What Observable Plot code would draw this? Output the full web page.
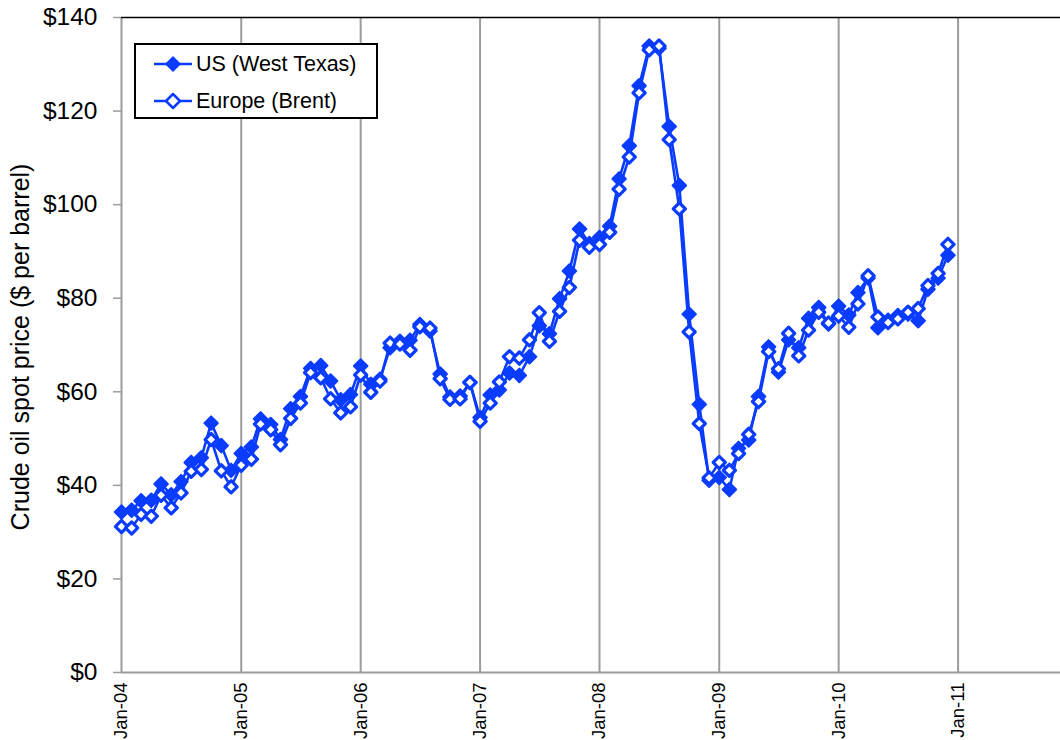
<!DOCTYPE html>
<html>
<head>
<meta charset="utf-8">
<script src="https://cdn.jsdelivr.net/npm/d3@7"></script>
<script src="https://cdn.jsdelivr.net/npm/@observablehq/plot@0.6"></script>
<style>
  html, body { margin: 0; padding: 0; background: #fff; }
  #wrap { position: relative; width: 1060px; height: 740px; font-family: "Liberation Sans", Arial, sans-serif; }
  #legend { position: absolute; left: 134px; top: 43px; width: 240px; height: 72px; border: 2px solid #000; background: #fff; box-sizing: content-box; }
  .row { position: absolute; left: 0; height: 30px; display: flex; align-items: center; font-size: 21.5px; color: #000; }
  .row svg { margin-left: 18px; margin-right: 4px; }
</style>
</head>
<body>
<div id="wrap"></div>
<script>
const startMonth = "2004-01-01";
const endMonth = "2010-12-01";
const yearTicks = ["2004-01-01","2005-01-01","2006-01-01","2007-01-01","2008-01-01","2009-01-01","2010-01-01","2011-01-01"];
const yTicks = [0, 20, 40, 60, 80, 100, 120, 140];
const seriesNames = ["US (West Texas)", "Europe (Brent)"];
const yTitle = "Crude oil spot price ($ per barrel)";

// Monthly average spot prices, Jan 2004 – Dec 2010
const wti = [
  34.3, 34.7, 36.7, 36.8, 40.3, 38.0, 40.8, 44.9, 45.9, 53.3, 48.5, 43.2,
  46.8, 48.2, 54.2, 53.0, 49.8, 56.4, 59.0, 65.0, 65.6, 62.3, 58.3, 59.4,
  65.5, 61.6, 62.7, 69.4, 70.8, 71.0, 74.4, 73.0, 63.8, 58.9, 59.1, 62.0,
  54.5, 59.3, 60.4, 64.0, 63.5, 67.5, 74.1, 72.4, 79.9, 85.8, 94.8, 91.7,
  93.0, 95.4, 105.5, 112.6, 125.4, 133.9, 133.4, 116.7, 104.1, 76.6, 57.3, 41.1,
  41.7, 39.1, 47.9, 49.7, 59.0, 69.6, 64.2, 71.1, 69.4, 75.7, 78.0, 74.5,
  78.3, 76.4, 81.2, 84.3, 73.7, 75.3, 76.3, 76.6, 75.2, 81.9, 84.3, 89.2
];
const brent = [
  31.2, 30.9, 33.8, 33.4, 37.9, 35.2, 38.4, 43.0, 43.4, 49.8, 43.1, 39.7,
  44.3, 45.6, 53.1, 51.9, 48.7, 54.3, 57.6, 64.1, 63.0, 58.5, 55.5, 56.8,
  63.6, 59.9, 62.3, 70.4, 70.2, 68.9, 73.9, 73.6, 62.8, 58.4, 58.5, 62.0,
  53.7, 57.6, 62.1, 67.5, 67.2, 71.1, 76.9, 70.8, 77.2, 82.3, 92.4, 90.9,
  91.5, 94.1, 103.3, 110.2, 123.9, 133.1, 133.9, 113.9, 99.1, 72.8, 53.2, 41.6,
  44.9, 43.2, 46.8, 50.9, 57.9, 68.6, 64.9, 72.5, 67.7, 73.2, 77.0, 74.7,
  76.2, 73.8, 78.8, 84.8, 76.0, 74.8, 75.6, 77.0, 77.8, 82.7, 85.3, 91.5
];

const blue = "#0a3cff";
const grid = "#9c9c9c";
const months = d3.utcMonth.range(new Date(startMonth), d3.utcMonth.offset(new Date(endMonth), 1));
const wtiData = months.map((d, i) => ({date: d, value: wti[i]}));
const brentData = months.map((d, i) => ({date: d, value: brent[i]}));
const tickDates = yearTicks.map(s => new Date(s));

const chart = Plot.plot({
  width: 1060,
  height: 740,
  marginLeft: 121,
  marginRight: 0,
  marginTop: 17,
  marginBottom: 68,
  style: {fontFamily: '"Liberation Sans", Arial, sans-serif', background: "#fff", color: "#000"},
  x: {type: "utc", domain: [new Date("2004-01-01"), new Date("2012-01-01")], range: [121, 1077]},
  y: {domain: [0, 140]},
  marks: [
    Plot.ruleX(tickDates, {stroke: grid, strokeWidth: 2, y1: 0, y2: 140}),
    Plot.ruleY([0], {stroke: grid, strokeWidth: 2}),
    Plot.ruleY([140], {stroke: "#000", strokeWidth: 1.5}),
    Plot.axisY({ticks: yTicks, tickFormat: d => "$" + d, fontSize: 24.5, tickSize: 8, tickPadding: 16, stroke: grid, strokeWidth: 1.5, label: null}),
    Plot.axisX({ticks: tickDates, tickFormat: d3.utcFormat("%b-%y"), tickRotate: -90, fontSize: 18.5, tickSize: 0, tickPadding: 10, label: null}),
    Plot.text([yTitle], {frameAnchor: "left", dx: -101, dy: 2, rotate: -90, fontSize: 25, textAnchor: "middle", fill: "#000"}),
    Plot.line(wtiData, {x: "date", y: "value", stroke: blue, strokeWidth: 2.6}),
    Plot.line(brentData, {x: "date", y: "value", stroke: blue, strokeWidth: 2.6}),
    Plot.dot(wtiData, {x: "date", y: "value", symbol: "diamond2", r: 6.1, fill: blue, stroke: blue, strokeWidth: 2, strokeLinejoin: "round"}),
    Plot.dot(brentData, {x: "date", y: "value", symbol: "diamond2", r: 5.5, fill: "#fff", stroke: blue, strokeWidth: 3.2, strokeLinejoin: "round"})
  ]
});

const wrap = document.getElementById("wrap");
wrap.appendChild(chart);

const legend = document.createElement("div");
legend.id = "legend";
const swatch = (filled) => `<svg width="38" height="20" viewBox="0 0 38 20"><line x1="0" y1="10" x2="38" y2="10" stroke="${blue}" stroke-width="2.5"/><path d="M19,3 L26,10 L19,17 L12,10 Z" fill="${filled ? blue : '#fff'}" stroke="${blue}" stroke-width="${filled ? 1.5 : 2.5}" stroke-linejoin="round"/></svg>`;
legend.innerHTML =
  `<div class="row" style="top:4px">${swatch(true)}<span>${seriesNames[0]}</span></div>` +
  `<div class="row" style="top:41px">${swatch(false)}<span>${seriesNames[1]}</span></div>`;
wrap.appendChild(legend);
</script>
</body>
</html>
